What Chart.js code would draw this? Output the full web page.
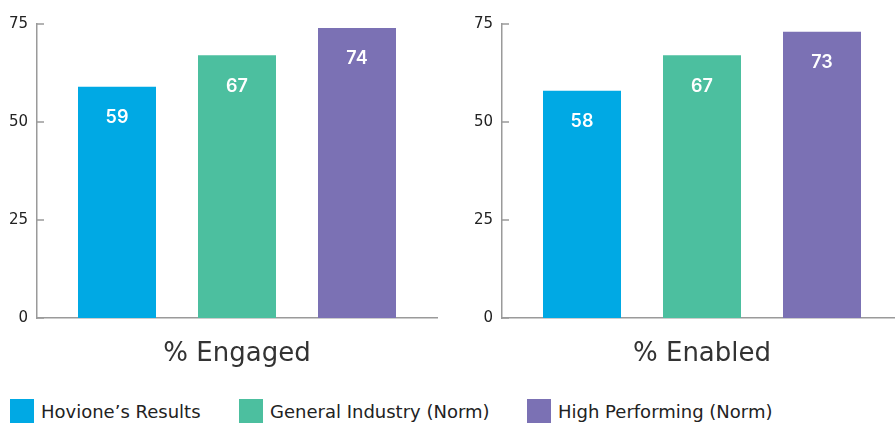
<!DOCTYPE html>
<html>
<head>
<meta charset="utf-8">
<script src="https://cdn.jsdelivr.net/npm/chart.js@4"></script>
<style>
  body { margin:0; background:#fff; width:895px; height:423px; overflow:hidden; position:relative; font-family: "DejaVu Sans", sans-serif; }
  .box { position:absolute; top:0; width:440px; height:370px; }
  .item { position:absolute; top:399px; display:flex; align-items:center; font-size:18px; color:#222; height:24px; white-space:nowrap; }
  .sw { width:24px; height:24px; margin-right:7px; }
</style>
</head>
<body>
<div class="box" style="left:0"><canvas id="c1"></canvas></div>
<div class="box" style="left:465px"><canvas id="c2"></canvas></div>
<div id="legend"></div>
<script>
// series / categories
const seriesNames = ['Hovione\u2019s Results', 'General Industry (Norm)', 'High Performing (Norm)'];
const seriesColors = ['#00a9e4', '#4cbf9f', '#7b71b4'];
const engaged = [59, 67, 74];
const enabled = [58, 67, 73];
const yTicks = [0, 25, 50, 75];
const legendLeft = [10, 239, 527];

// white value labels inside bars + inward tick marks on y axis
const extras = {
  id: 'extras',
  afterDatasetsDraw(chart) {
    const ctx = chart.ctx;
    ctx.save();
    ctx.fillStyle = '#fff';
    ctx.font = '600 18px Inter, "Noto Sans", sans-serif';
    ctx.textAlign = 'center';
    ctx.textBaseline = 'middle';
    chart.data.datasets.forEach((ds, i) => {
      chart.getDatasetMeta(i).data.forEach((bar, j) => {
        ctx.fillText(ds.data[j], bar.x, bar.y + 31);
      });
    });
    const y = chart.scales.y;
    ctx.strokeStyle = '#9a9a9a';
    ctx.lineWidth = 1.5;
    yTicks.forEach(v => {
      const py = y.getPixelForValue(v);
      ctx.beginPath();
      ctx.moveTo(chart.chartArea.left, py);
      ctx.lineTo(chart.chartArea.left + 7, py);
      ctx.stroke();
    });
    ctx.restore();
  }
};

function makeChart(id, label, values) {
  new Chart(document.getElementById(id), {
    type: 'bar',
    data: {
      labels: [label],
      datasets: seriesNames.map((n, i) => ({
        label: n,
        data: [values[i]],
        backgroundColor: seriesColors[i],
        categoryPercentage: 0.9,
        barPercentage: 0.65
      }))
    },
    options: {
      responsive: true,
      maintainAspectRatio: false,
      animation: false,
      layout: { padding: { top: 24, right: 3 } },
      plugins: { legend: { display: false }, tooltip: { enabled: false } },
      scales: {
        x: {
          grid: { display: false },
          border: { display: true, color: '#9a9a9a', width: 1.5 },
          ticks: { color: '#333', font: { size: 26, family: '"DejaVu Sans", sans-serif' }, padding: 13 },
          afterFit(s) { s.height = 52; }
        },
        y: {
          min: 0, max: 75,
          afterBuildTicks(s) { s.ticks = yTicks.map(v => ({ value: v })); },
          grid: { display: false, drawTicks: false },
          border: { display: true, color: '#9a9a9a', width: 1.5 },
          ticks: { color: '#222', font: { size: 15, family: '"DejaVu Sans", sans-serif' }, padding: 9 },
          afterFit(s) { s.width = 37; }
        }
      }
    },
    plugins: [extras]
  });
}

makeChart('c1', '% Engaged', engaged);
makeChart('c2', '% Enabled', enabled);

// legend
document.getElementById('legend').innerHTML = seriesNames.map((n, i) =>
  `<div class="item" style="left:${legendLeft[i]}px"><span class="sw" style="background:${seriesColors[i]}"></span>${n}</div>`).join('');
</script>
</body>
</html>
